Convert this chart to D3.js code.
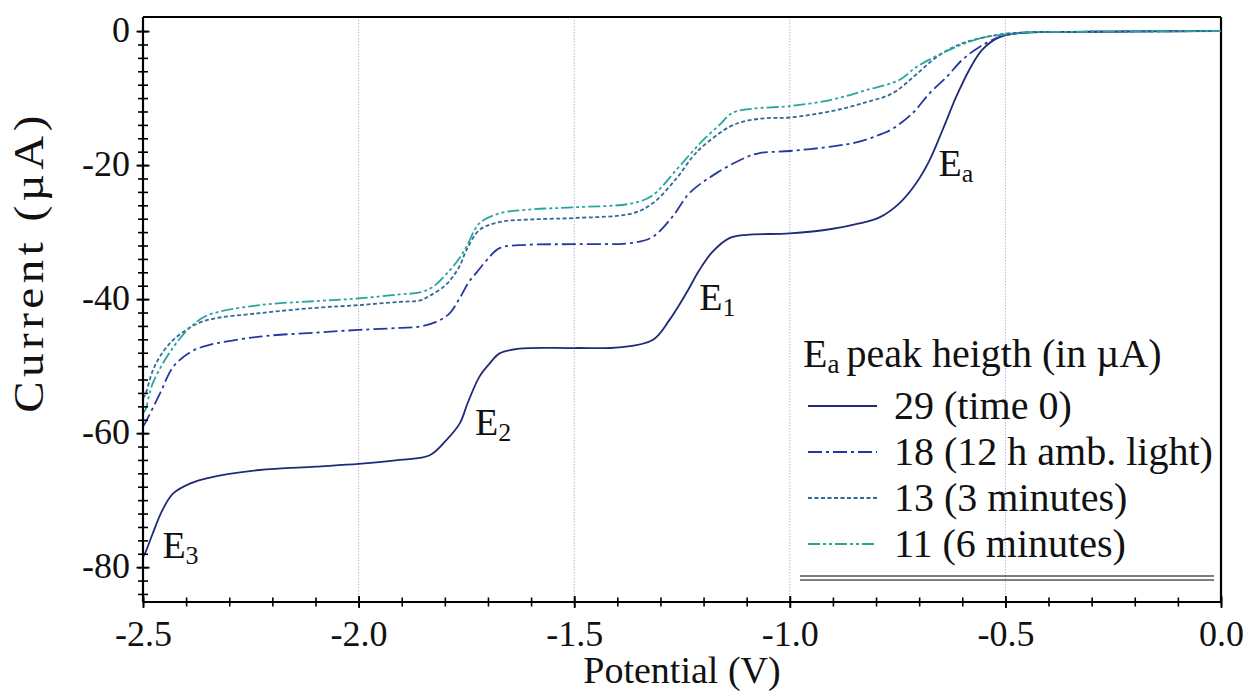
<!DOCTYPE html>
<html>
<head>
<meta charset="utf-8">
<script src="https://cdn.jsdelivr.net/npm/d3@7"></script>
<style>
  html, body { margin: 0; padding: 0; background: #fff; }
  svg { display: block; }
  svg text { font-family: "Liberation Serif", "Times New Roman", Times, "DejaVu Serif", "Noto Serif", serif !important; fill: #111; }
</style>
</head>
<body>
<svg id="chart" width="1248" height="691"></svg>
<script>
// ---------- DATA ----------
const xTickLabels = [-2.5, -2.0, -1.5, -1.0, -0.5, 0.0];
const yTickLabels = [0, -20, -40, -60, -80];
const gridX = [-2.0, -1.5, -1.0, -0.5];

const seriesNames = ["29 (time 0)", "18 (12 h amb. light)", "13 (3 minutes)", "11 (6 minutes)"];

// [potential V, current µA]
const s29 = [
  [-2.5,-78.5],[-2.495,-77.9],[-2.477,-74.9],[-2.455,-71.5],[-2.43,-69],[-2.39,-67.5],[-2.35,-66.7],
  [-2.23,-65.5],[-2.1,-65],[-2.0,-64.6],[-1.905,-64],[-1.835,-63.3],[-1.796,-61],[-1.765,-58.5],
  [-1.747,-55.5],[-1.72,-51.6],[-1.696,-49.6],[-1.673,-48.1],[-1.627,-47.4],[-1.5,-47.3],
  [-1.395,-47.2],[-1.318,-46.1],[-1.279,-43.1],[-1.24,-39.1],[-1.21,-35.7],[-1.18,-33],
  [-1.14,-30.9],[-1.10,-30.4],[-1.0,-30.2],[-0.9,-29.5],[-0.839,-28.7],[-0.792,-27.8],
  [-0.746,-25.7],[-0.707,-22.7],[-0.676,-19.3],[-0.646,-14.8],[-0.614,-9.8],[-0.584,-5.8],
  [-0.554,-2.8],[-0.514,-0.9],[-0.468,-0.3],[-0.3,-0.1],[0,0]
];
const s18 = [
  [-2.5,-59],[-2.495,-58.5],[-2.46,-54],[-2.43,-50.1],[-2.39,-47.9],[-2.35,-46.9],[-2.23,-45.6],
  [-2.1,-45],[-2.0,-44.6],[-1.905,-44.3],[-1.858,-44.1],[-1.82,-43.4],[-1.79,-42.2],[-1.765,-39.8],
  [-1.745,-37.5],[-1.726,-36],[-1.703,-34.2],[-1.673,-32.4],[-1.61,-31.9],[-1.5,-31.8],
  [-1.365,-31.6],[-1.318,-30.7],[-1.272,-27.7],[-1.233,-24.2],[-1.17,-21.2],[-1.10,-18.8],
  [-1.07,-18.2],[-1.0,-17.9],[-0.9,-17.2],[-0.839,-16.5],[-0.785,-15.3],[-0.762,-14.6],
  [-0.716,-12.3],[-0.676,-9.3],[-0.637,-6.9],[-0.6,-4.3],[-0.561,-2.4],[-0.514,-0.9],
  [-0.47,-0.3],[-0.3,-0.1],[0,0]
];
const s13 = [
  [-2.5,-54.8],[-2.495,-54.3],[-2.477,-50.6],[-2.455,-48],[-2.43,-46.1],[-2.39,-44.2],[-2.35,-43.1],
  [-2.23,-42.1],[-2.1,-41.3],[-2.0,-40.9],[-1.905,-40.4],[-1.858,-40.2],[-1.835,-39.5],[-1.80,-38],
  [-1.782,-36.7],[-1.765,-35],[-1.75,-32.7],[-1.72,-29.7],[-1.673,-28.5],[-1.596,-28.1],[-1.5,-27.9],
  [-1.365,-27.2],[-1.318,-25.7],[-1.263,-22],[-1.226,-18.8],[-1.2,-17.1],[-1.14,-14.3],[-1.1,-13.4],
  [-1.054,-13],[-1.0,-12.9],[-0.9,-11.9],[-0.822,-10.6],[-0.762,-9.3],[-0.716,-7],[-0.66,-3.9],
  [-0.607,-2.0],[-0.554,-1.0],[-0.5,-0.4],[-0.45,-0.2],[-0.3,-0.1],[0,0]
];
const s11 = [
  [-2.5,-57],[-2.495,-56.6],[-2.477,-52.5],[-2.43,-47.2],[-2.39,-44.2],[-2.35,-42.4],[-2.23,-40.9],
  [-2.1,-40.3],[-2.0,-39.9],[-1.905,-39.3],[-1.858,-39],[-1.828,-38.2],[-1.79,-35.8],[-1.765,-33.8],
  [-1.75,-32.2],[-1.72,-28.7],[-1.673,-27.2],[-1.596,-26.6],[-1.5,-26.3],[-1.365,-25.7],[-1.318,-24.5],
  [-1.263,-20.7],[-1.226,-18],[-1.2,-16.2],[-1.163,-14],[-1.133,-12.2],[-1.09,-11.6],[-1.0,-11.2],
  [-0.9,-10.2],[-0.822,-8.8],[-0.746,-7.3],[-0.707,-5.4],[-0.63,-2.8],[-0.554,-1.0],[-0.514,-0.6],
  [-0.45,-0.2],[-0.3,-0.1],[0,0]
];
const seriesData = [s29, s18, s13, s11];

// annotations: label, subscript, anchor potential, anchor current
const annLabels = ["E", "E", "E", "E"];
const annSubs = ["a", "1", "2", "3"];
const annX = [-0.655, -1.21, -1.73, -2.455];
const annY = [-21.7, -41.6, -60.3, -78.7];

// ---------- STYLE ----------
const colors = ["#1f2b78", "#2638a0", "#2e6a98", "#29a59c"];
const dashes = [null, "14,4,3,4", "4,2.5", "12,3,3,3,3,3"];
const FONT = '"Liberation Serif", "Times New Roman", Times, "DejaVu Serif", "Noto Serif", serif';

const pLeft = 143, pRight = 1221, pTop = 17, pBottom = 602;

const svg = d3.select("#chart");
const x = d3.scaleLinear().domain([-2.5, 0]).range([pLeft, pRight]);
const y = d3.scaleLinear().domain([-85.2, 2.1]).range([pBottom, pTop]);

// grid lines
svg.append("g").selectAll("line").data(gridX).join("line")
  .attr("x1", d => x(d)).attr("x2", d => x(d))
  .attr("y1", pTop).attr("y2", pBottom)
  .attr("stroke", "#b4b4e6").attr("stroke-width", 1).attr("stroke-dasharray", "1.5,1.5");

// frame top/right
svg.append("line").attr("x1", pLeft).attr("x2", pRight).attr("y1", pTop).attr("y2", pTop)
  .attr("stroke", "#000").attr("stroke-width", 2.2);
svg.append("line").attr("x1", pRight).attr("x2", pRight).attr("y1", pTop).attr("y2", pBottom)
  .attr("stroke", "#000").attr("stroke-width", 2.2);

// curves
const line = d3.line().x(d => x(d[0])).y(d => y(d[1])).curve(d3.curveCatmullRom.alpha(0.5));
const curves = svg.append("g");
seriesData.forEach((data, i) => {
  curves.append("path").datum(data)
    .attr("d", line).attr("fill", "none")
    .attr("stroke", colors[i]).attr("stroke-width", 1.8)
    .attr("stroke-dasharray", dashes[i]);
});

// y axis minor ticks
const yMinor = d3.range(-84, 0.1, 2);
const gyMinor = svg.append("g").attr("transform", `translate(${pLeft},0)`)
  .call(d3.axisLeft(y).tickValues(yMinor).tickFormat("").tickSizeOuter(0));
gyMinor.select(".domain").remove();
gyMinor.selectAll(".tick line").attr("x1", -5).attr("x2", 5).attr("stroke", "#000").attr("stroke-width", 1.6);

// y axis major
const gy = svg.append("g").attr("transform", `translate(${pLeft},0)`)
  .call(d3.axisLeft(y).tickValues(yTickLabels).tickFormat(d => String(d)).tickSizeOuter(0));
gy.attr("font-family", FONT).attr("font-size", 36);
gy.select(".domain").attr("d", `M0,${pTop}V${pBottom}`).attr("stroke", "#000").attr("stroke-width", 2.2);
gy.selectAll(".tick line").attr("x1", -6.5).attr("x2", 6.5).attr("stroke", "#000").attr("stroke-width", 1.8);
gy.selectAll(".tick text").attr("x", -13).attr("dy", "0.30em").attr("fill", "#111");

// x axis minor ticks
const xMinor = d3.range(-2.5, 0.001, 0.1);
const gxMinor = svg.append("g").attr("transform", `translate(0,${pBottom})`)
  .call(d3.axisBottom(x).tickValues(xMinor).tickFormat("").tickSizeOuter(0));
gxMinor.select(".domain").remove();
gxMinor.selectAll(".tick line").attr("y1", -4.5).attr("y2", 4.5).attr("stroke", "#000").attr("stroke-width", 1.6);

// x axis major
const gx = svg.append("g").attr("transform", `translate(0,${pBottom})`)
  .call(d3.axisBottom(x).tickValues(xTickLabels).tickFormat(d => d.toFixed(1)).tickSizeOuter(0));
gx.attr("font-family", FONT).attr("font-size", 36);
gx.select(".domain").attr("d", `M${pLeft},0H${pRight}`).attr("stroke", "#000").attr("stroke-width", 2.2);
gx.selectAll(".tick line").attr("y1", -6).attr("y2", 6).attr("stroke", "#000").attr("stroke-width", 1.8);
gx.selectAll(".tick text").attr("y", 44).attr("dy", 0).attr("fill", "#111");

// axis titles
svg.append("text").attr("x", 682).attr("y", 683).attr("text-anchor", "middle")
  .attr("font-family", FONT).attr("font-size", 38).text("Potential (V)");
svg.append("text").attr("transform", `translate(43,262) rotate(-90) scale(1.12,1)`).attr("text-anchor", "middle")
  .attr("font-family", FONT).attr("font-size", 42).attr("letter-spacing", 4).text("Current (µA)");

// annotations
annLabels.forEach((lab, i) => {
  const t = svg.append("text").attr("x", x(annX[i])).attr("y", y(annY[i]))
    .attr("font-family", FONT).attr("font-size", 38);
  t.append("tspan").text(lab);
  t.append("tspan").attr("dy", 6).attr("font-size", 26).text(annSubs[i]);
});

// legend
const lg = svg.append("g").attr("font-family", FONT);
const lt = lg.append("text").attr("x", 803).attr("y", 367).attr("font-size", 40);
lt.append("tspan").text("E");
lt.append("tspan").attr("dy", 6).attr("font-size", 27).text("a");
lt.append("tspan").attr("dy", -6).attr("dx", 7).text("peak heigth (in µA)");

seriesNames.forEach((name, i) => {
  const cy = 406 + i * 46;
  lg.append("line").attr("x1", 808).attr("x2", 877).attr("y1", cy).attr("y2", cy)
    .attr("stroke", colors[i]).attr("stroke-width", 1.8).attr("stroke-dasharray", dashes[i]);
  lg.append("text").attr("x", 894).attr("y", cy + 13).attr("font-size", 40).text(name);
});
lg.append("line").attr("x1", 800).attr("x2", 1214).attr("y1", 576).attr("y2", 576)
  .attr("stroke", "#000").attr("stroke-width", 1.2);
lg.append("line").attr("x1", 800).attr("x2", 1214).attr("y1", 580).attr("y2", 580)
  .attr("stroke", "#000").attr("stroke-width", 1.2);
</script>
</body>
</html>
